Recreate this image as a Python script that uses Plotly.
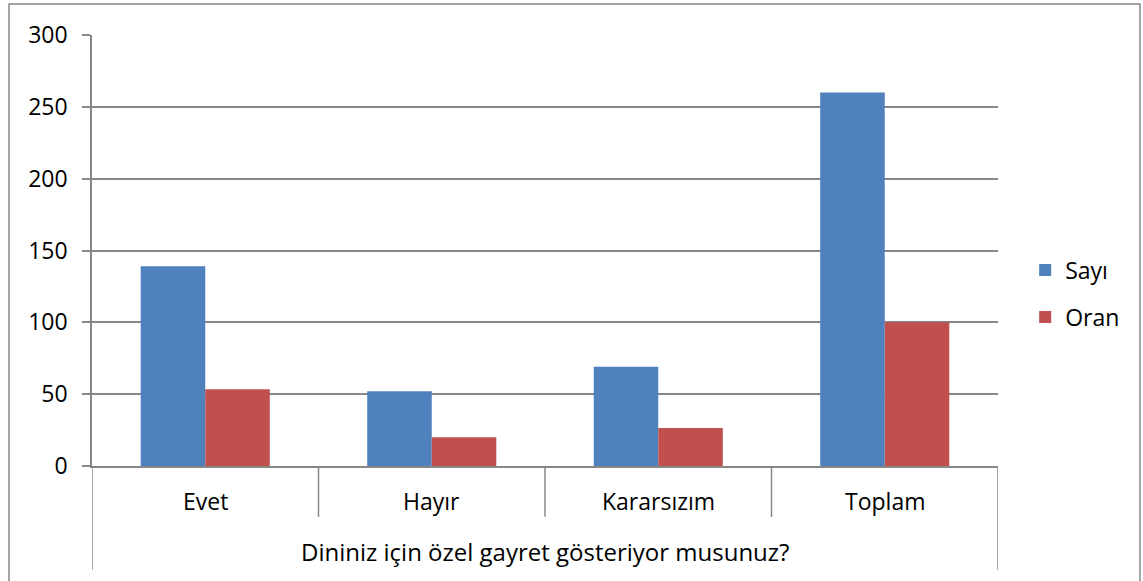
import plotly.graph_objects as go

# data
categories = ["Evet", "Hayır", "Kararsızım", "Toplam"]
sayi = [139, 52, 69, 260]
oran = [53.5, 20, 26.5, 100]
axis_title = "Dininiz için özel gayret gösteriyor musunuz?"

BLUE = "#4F81BD"
RED = "#C0504D"
GRID = "#878787"
FONT = "'Open Sans', Lato, sans-serif"
FS = 23

x_pos = list(range(len(categories)))

fig = go.Figure()
fig.add_trace(go.Bar(x=x_pos, y=sayi, name="Sayı", marker_color=BLUE,
                     marker_line_width=0, legendgroup="a"))
fig.add_trace(go.Bar(x=x_pos, y=oran, name="Oran", marker_color=RED,
                     marker_line_width=0, legendgroup="b"))

# category dividers below the axis (multi-level style)
n = len(categories)
for i in range(n + 1):
    edge = i - 0.5
    outer = i in (0, n)
    fig.add_shape(type="line", xref="x", yref="paper",
                  x0=edge, x1=edge, y0=0, y1=-0.241 if outer else -0.118,
                  line=dict(color=GRID, width=1.5))

# category labels
for i, c in enumerate(categories):
    fig.add_annotation(x=i, y=-0.081, xref="x", yref="paper", text=c,
                       showarrow=False, font=dict(size=FS, color="black"),
                       yanchor="middle")

fig.add_annotation(x=0.5, y=-0.1995, xref="paper", yref="paper", text=axis_title,
                   showarrow=False, font=dict(size=24, color="black"),
                   yanchor="middle")

# outer chart border
fig.add_shape(type="rect", xref="paper", yref="paper",
              x0=-0.0916, x1=1.1567, y0=-0.35, y1=1.072,
              line=dict(color=GRID, width=1.5), layer="below")

fig.update_layout(
    width=1143, height=581,
    margin=dict(l=92, r=145, t=35, b=115),
    paper_bgcolor="white", plot_bgcolor="white",
    font=dict(family=FONT, size=FS, color="black"),
    barmode="group", bargap=0.43, bargroupgap=0,
    showlegend=True,
    legend=dict(x=1.03, y=0.40, xanchor="left", yanchor="middle",
                traceorder="grouped", tracegroupgap=14,
                font=dict(size=FS), itemwidth=30),
    xaxis=dict(range=[-0.5, n - 0.5], showticklabels=False, ticks="",
               showgrid=False, showline=True, linecolor=GRID, linewidth=1.5,
               zeroline=False, fixedrange=True),
    yaxis=dict(range=[0, 300], dtick=50, showgrid=True, gridcolor=GRID,
               gridwidth=1.5, showline=True, linecolor=GRID, linewidth=1.5,
               ticks="outside", ticklen=8, tickcolor=GRID, tickwidth=1.5,
               zeroline=False, tickfont=dict(size=FS), ticklabelstandoff=10),
)

# drop the default page margin so the figure sits at the window origin
fig.write_html("out.html", config={"displayModeBar": False},
               post_script="document.body.style.margin='0';"
                           "document.body.style.overflow='hidden';")
